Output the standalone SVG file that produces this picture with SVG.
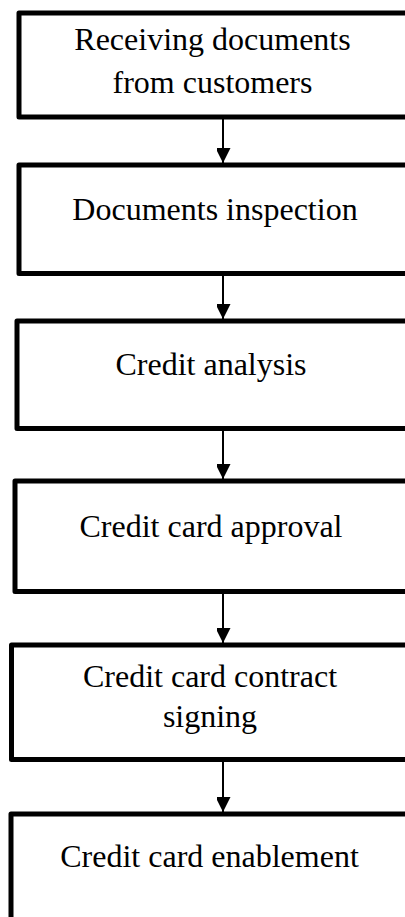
<svg xmlns="http://www.w3.org/2000/svg" width="405" height="917" viewBox="0 0 405 917">
<style>
.box{fill:#fff;stroke:#000;stroke-width:5;stroke-linejoin:round}
.lbl{font-family:"Liberation Serif","Times New Roman",serif;font-size:32px;fill:#000;text-anchor:middle}
.conn{stroke:#000;stroke-width:2;fill:none}
</style>
<defs>
<marker id="ah" markerUnits="userSpaceOnUse" markerWidth="16" markerHeight="14" refX="15" refY="7.5" orient="auto">
<path d="M0,0 L15,7.5 L0,15 Z" fill="#000"/>
</marker>
</defs>
<rect width="405" height="917" fill="#fff"/>
<g id="n1"><rect class="box" x="19" y="13" width="392" height="104"/>
<text class="lbl" x="212.5" y="49.5">Receiving documents</text>
<text class="lbl" x="212.5" y="92.5">from customers</text></g>
<g id="n2"><rect class="box" x="19" y="165" width="392" height="108.5"/>
<text class="lbl" x="215" y="220">Documents inspection</text></g>
<g id="n3"><rect class="box" x="17" y="321" width="394" height="107.5"/>
<text class="lbl" x="211" y="375">Credit analysis</text></g>
<g id="n4"><rect class="box" x="15" y="481" width="396" height="110.5"/>
<text class="lbl" x="211" y="537">Credit card approval</text></g>
<g id="n5"><rect class="box" x="11.5" y="645" width="400" height="114.5"/>
<text class="lbl" x="210" y="687">Credit card contract</text>
<text class="lbl" x="210" y="727">signing</text></g>
<g id="n6"><rect class="box" x="11" y="814" width="400" height="120"/>
<text class="lbl" x="209.5" y="867">Credit card enablement</text></g>
<g id="connectors">
<line class="conn" x1="223" y1="119" x2="223" y2="163" marker-end="url(#ah)"/>
<line class="conn" x1="223" y1="276" x2="223" y2="319" marker-end="url(#ah)"/>
<line class="conn" x1="223" y1="431" x2="223" y2="479" marker-end="url(#ah)"/>
<line class="conn" x1="223" y1="594" x2="223" y2="643" marker-end="url(#ah)"/>
<line class="conn" x1="223" y1="762" x2="223" y2="812" marker-end="url(#ah)"/>
</g>
</svg>
